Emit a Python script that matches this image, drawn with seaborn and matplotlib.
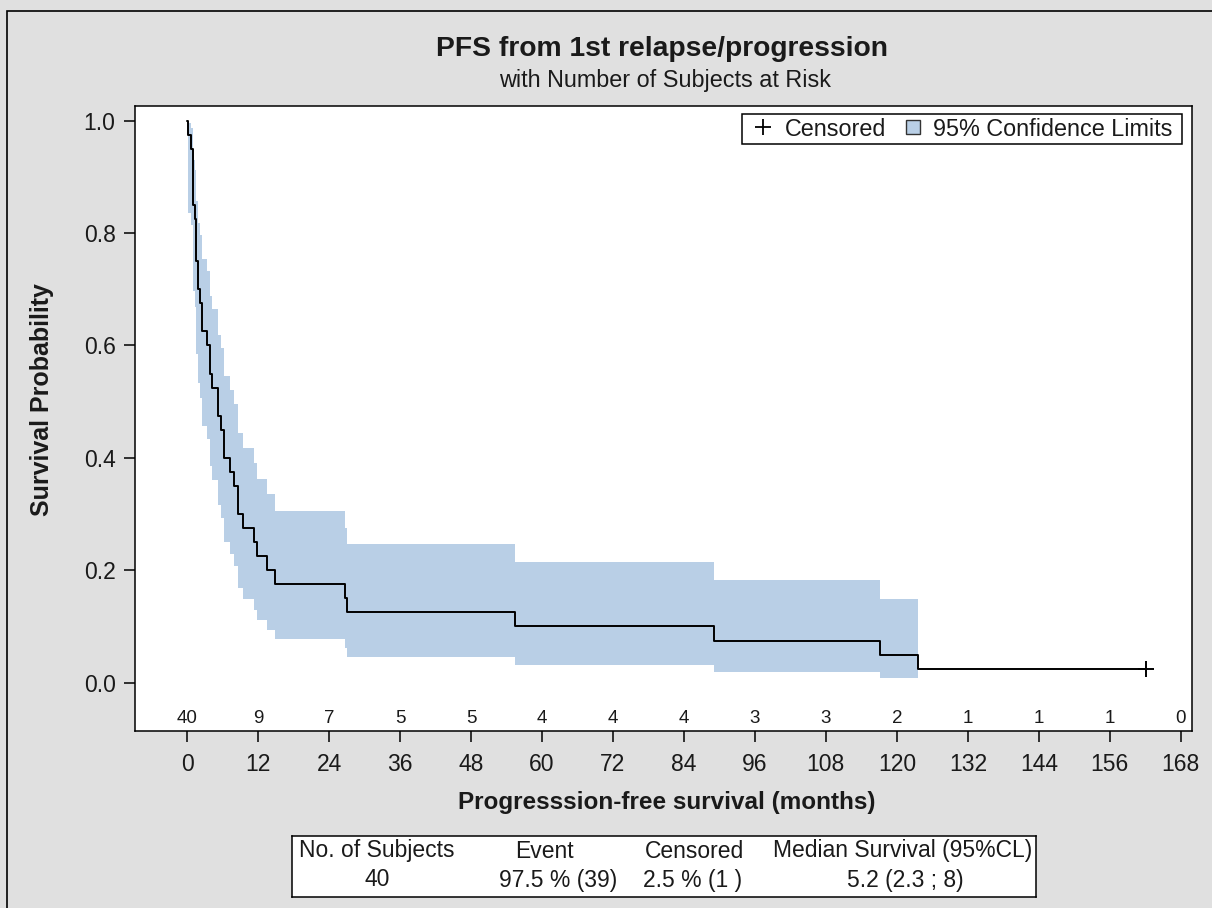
import numpy as np
import pandas as pd
import matplotlib
matplotlib.use("Agg")
import matplotlib.pyplot as plt
import seaborn as sns
from matplotlib.lines import Line2D
from matplotlib.patches import Patch, Rectangle
from matplotlib.legend_handler import HandlerPatch, HandlerBase

# ---------------- data ----------------
title = "PFS from 1st relapse/progression"
subtitle = "with Number of Subjects at Risk"
x_label = "Progresssion-free survival (months)"
y_label = "Survival Probability"

step_times = [0.0, 0.2, 0.6, 1.0, 1.3, 1.5, 1.8, 2.2, 2.5, 3.3, 3.8, 4.3, 5.2, 5.7,
              6.25, 7.3, 8.0, 8.6, 9.4, 11.3, 11.9, 13.6, 14.9, 26.7, 27.0, 55.4,
              89.1, 117.1, 123.5, 162.2]
survival = [1.0, 0.975, 0.95, 0.85, 0.825, 0.75, 0.70, 0.675, 0.625, 0.60, 0.55,
            0.525, 0.475, 0.45, 0.40, 0.375, 0.35, 0.30, 0.275, 0.25, 0.225, 0.20,
            0.175, 0.15, 0.125, 0.10, 0.075, 0.05, 0.025, 0.025]
ci_lower = [np.nan, 0.835, 0.815, 0.696, 0.668, 0.585, 0.533, 0.507, 0.457, 0.433,
            0.385, 0.361, 0.316, 0.293, 0.250, 0.229, 0.208, 0.168, 0.149, 0.130,
            0.112, 0.094, 0.077, 0.061, 0.046, 0.032, 0.019, 0.009, np.nan, np.nan]
ci_upper = [np.nan, 0.996, 0.987, 0.930, 0.913, 0.857, 0.817, 0.797, 0.754, 0.733,
            0.688, 0.665, 0.618, 0.595, 0.546, 0.521, 0.496, 0.444, 0.417, 0.390,
            0.363, 0.335, 0.306, 0.276, 0.246, 0.215, 0.182, 0.148, np.nan, np.nan]
censor_times = [162.2]
censor_surv = [0.025]

x_ticks = [0, 12, 24, 36, 48, 60, 72, 84, 96, 108, 120, 132, 144, 156, 168]
at_risk = [40, 9, 7, 5, 5, 4, 4, 4, 3, 3, 2, 1, 1, 1, 0]
y_ticks = [0.0, 0.2, 0.4, 0.6, 0.8, 1.0]

table_headers = ["No. of Subjects", "Event", "Censored", "Median Survival (95%CL)"]
table_values = ["40", "97.5 % (39)", "2.5 % (1 )", "5.2 (2.3 ; 8)"]

# ---------------- style ----------------
sns.set_style("ticks")
plt.rcParams["font.family"] = ["Liberation Sans", "DejaVu Sans"]
BG = "#e0e0e0"
BAND = "#b9cfe6"
TXT = "#1a1a1a"

W, H = 1212, 908
fig = plt.figure(figsize=(W / 100, H / 100), dpi=100, facecolor=BG)

# axes placement in pixels
ax_l, ax_r, ax_t, ax_b = 135, 1192, 106, 731
ax = fig.add_axes([ax_l / W, 1 - ax_b / H, (ax_r - ax_l) / W, (ax_b - ax_t) / H])
ax.set_facecolor("white")

df = pd.DataFrame({"time": step_times, "survival": survival,
                   "lower": ci_lower, "upper": ci_upper})

# confidence band (step intervals)
for i in range(len(df) - 1):
    lo, hi = df["lower"].iloc[i], df["upper"].iloc[i]
    if np.isnan(lo):
        continue
    ax.fill_between([df["time"].iloc[i], df["time"].iloc[i + 1]], lo, hi,
                    color=BAND, lw=0, zorder=1)

sns.lineplot(data=df, x="time", y="survival", drawstyle="steps-post",
             color="black", lw=1.4, estimator=None, ax=ax, zorder=3)
sns.scatterplot(x=censor_times, y=censor_surv, marker="+", s=130, color="black",
                linewidth=1.4, ax=ax, zorder=4)

ax.set_xlim(-8.8, 169.9)
ax.set_ylim(-0.086, 1.026)
ax.set_xticks(x_ticks)
ax.set_xticklabels([str(t) for t in x_ticks])
ax.set_yticks(y_ticks)
ax.set_yticklabels([f"{v:.1f}" for v in y_ticks])
ax.set_xlabel("")
ax.set_ylabel("")
ax.tick_params(axis="both", length=8, width=1.1, color="black",
               labelsize=16.5, labelcolor=TXT)
ax.tick_params(axis="x", pad=8)
ax.tick_params(axis="y", pad=6)
for sp in ax.spines.values():
    sp.set_visible(True)
    sp.set_color("black")
    sp.set_linewidth(1.1)

# numbers at risk inside the axes
for t, n in zip(x_ticks, at_risk):
    ax.text(t, -0.063, str(n), ha="center", va="center", fontsize=13.5, color=TXT)


# legend handlers
def square_patch(legend, orig_handle, xdescent, ydescent, width, height, fontsize):
    return Rectangle((-xdescent + width - height, -ydescent), height, height)


class PlusHandler(HandlerBase):
    def create_artists(self, legend, orig_handle, xdescent, ydescent, width,
                       height, fontsize, trans):
        mk = Line2D([width - xdescent - 6.5], [height / 2 - ydescent],
                    marker="+", ls="none", color="black", markersize=11,
                    markeredgewidth=1.3)
        mk.set_transform(trans)
        return [mk]


censor_handle = Line2D([], [], marker="+", ls="none", color="black",
                       label="Censored")
band_handle = Patch(facecolor=BAND, edgecolor="#333333", lw=1.0,
                    label="95% Confidence Limits ")
leg = ax.legend(handles=[censor_handle, band_handle], loc="upper right",
                bbox_to_anchor=(1 - 10 / (ax_r - ax_l), 1 - 8 / (ax_b - ax_t)),
                borderaxespad=0, ncol=2, fontsize=16.8, frameon=True, fancybox=False,
                framealpha=1, edgecolor="black", borderpad=0.15, handlelength=1.14,
                handleheight=0.56, handletextpad=0.54, columnspacing=0.32,
                handler_map={Patch: HandlerPatch(patch_func=square_patch),
                             censor_handle: PlusHandler()})
leg.get_frame().set_linewidth(1.1)
for txt in leg.get_texts():
    txt.set_color(TXT)

# titles and axis labels
fig.text(662.5 / W, 1 - 49 / H, title, ha="center", va="center",
         fontsize=20.3, fontweight="bold", color=TXT)
fig.text(665 / W, 1 - 80 / H, subtitle, ha="center", va="center",
         fontsize=16.8, color=TXT)
fig.text(667 / W, 1 - 803 / H, x_label, ha="center", va="center",
         fontsize=17.5, fontweight="bold", color=TXT)
fig.text(42 / W, 1 - 400 / H, y_label, ha="center", va="center", rotation=90,
         fontsize=18, fontweight="bold", color=TXT)

# summary table
tb_l, tb_r, tb_t, tb_b = 292, 1036, 836, 897
tax = fig.add_axes([tb_l / W, 1 - tb_b / H, (tb_r - tb_l) / W, (tb_b - tb_t) / H])
tax.set_facecolor("white")
tax.set_xlim(tb_l, tb_r)
tax.set_ylim(tb_b, tb_t)
tax.set_xticks([])
tax.set_yticks([])
for sp in tax.spines.values():
    sp.set_color("black")
    sp.set_linewidth(1.1)
head_x = [377, 544, 694, 903]
val_x = [377, 558, 693, 905]
for hx, h in zip(head_x, table_headers):
    tax.text(hx, 851, h, ha="center", va="center", fontsize=16.5, color=TXT)
for vx, v in zip(val_x, table_values):
    tax.text(vx, 880, v, ha="center", va="center", fontsize=16.5, color=TXT)

# outer frame (left and top edges visible in the reference crop)
fig.add_artist(Rectangle((7 / W, -0.5), 2.0, 1 - 11 / H + 0.5,
                         transform=fig.transFigure, fill=False,
                         edgecolor="black", lw=1.2))

fig.savefig("out.png", dpi=100, facecolor=BG)
